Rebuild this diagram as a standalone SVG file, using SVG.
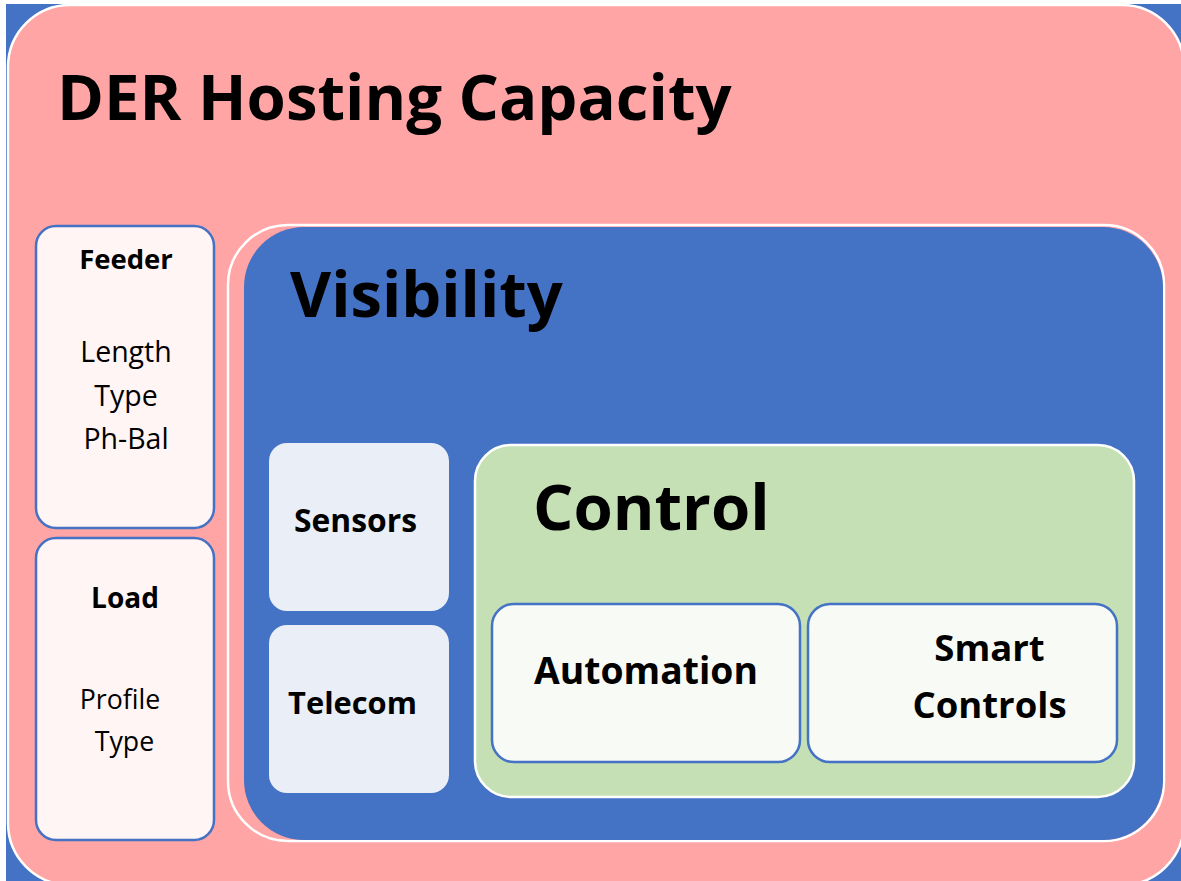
<svg xmlns="http://www.w3.org/2000/svg" width="1181" height="881" viewBox="0 0 1181 881">
<style>
.t{font-family:"Open Sans","Noto Sans","Liberation Sans",sans-serif;fill:#000}
.b{font-weight:700}
.side{fill:#FFF5F4;stroke:#4472C4;stroke-width:2.5}
.sub{fill:#E9EEF7}
.ctl{fill:#F8FAF5;stroke:#4472C4;stroke-width:2.5}
</style>
<rect x="6" y="4" width="1175" height="877" fill="#4472C4"/>
<g id="der">
<rect x="8" y="5" width="1176" height="880" rx="62" fill="#FFA5A5" stroke="#fff" stroke-width="2.5"/>
<text class="t b" x="57" y="120" font-size="63.5">DER Hosting Capacity</text>
</g>
<g id="feeder">
<rect class="side" x="36" y="226" width="178" height="302" rx="20"/>
<text class="t b" x="126" y="269" font-size="27.5" text-anchor="middle">Feeder</text>
<text class="t" x="126" y="362" font-size="28.5" text-anchor="middle">Length</text>
<text class="t" x="126" y="406" font-size="28.5" text-anchor="middle">Type</text>
<text class="t" x="126" y="449" font-size="28.5" text-anchor="middle">Ph-Bal</text>
</g>
<g id="load">
<rect class="side" x="36" y="538" width="178" height="302" rx="20"/>
<text class="t b" x="125" y="608" font-size="28" text-anchor="middle">Load</text>
<text class="t" x="120" y="709" font-size="26.7" text-anchor="middle">Profile</text>
<text class="t" x="124.5" y="751" font-size="26.7" text-anchor="middle">Type</text>
</g>
<g id="visibility">
<rect x="228" y="225" width="936" height="616" rx="60" fill="#FFA5A5" stroke="#fff" stroke-width="2.5"/>
<rect x="244" y="227" width="919" height="613" rx="60" fill="#4472C4"/>
<text class="t b" x="290" y="317" font-size="63.3">Visibility</text>
</g>
<g id="sensors">
<rect class="sub" x="269" y="443" width="180" height="168" rx="18"/>
<text class="t b" x="355.5" y="532" font-size="31.8" text-anchor="middle">Sensors</text>
</g>
<g id="telecom">
<rect class="sub" x="269" y="625" width="180" height="168" rx="18"/>
<text class="t b" x="352.5" y="714" font-size="30.8" text-anchor="middle">Telecom</text>
</g>
<g id="control">
<rect x="475" y="445" width="659" height="352" rx="36" fill="#C5E0B4" stroke="#fff" stroke-width="2.5"/>
<text class="t b" x="533" y="530" font-size="63.5">Control</text>
</g>
<g id="automation">
<rect class="ctl" x="492" y="604" width="308" height="158" rx="22"/>
<text class="t b" x="646" y="684" font-size="37.3" text-anchor="middle">Automation</text>
</g>
<g id="smart">
<rect class="ctl" x="808" y="604" width="309" height="158" rx="22"/>
<text class="t b" x="989.5" y="661" font-size="36.5" text-anchor="middle">Smart</text>
<text class="t b" x="989.5" y="718" font-size="36.5" text-anchor="middle">Controls</text>
</g>
<g id="connectors"></g>
</svg>
